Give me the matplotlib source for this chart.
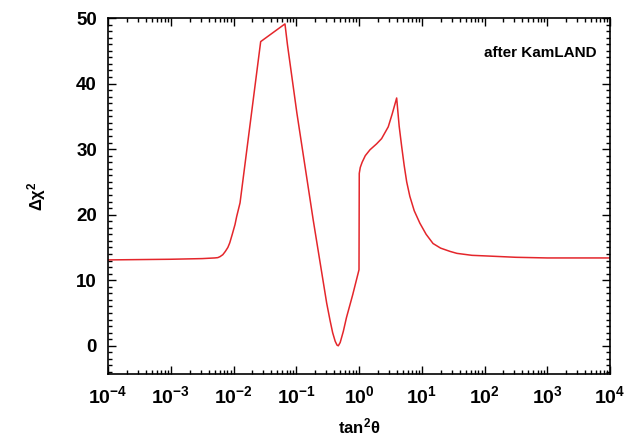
import matplotlib
matplotlib.use('Agg')
import matplotlib.pyplot as plt
import numpy as np
from matplotlib.ticker import LogLocator, MultipleLocator, NullFormatter

# tan^2(theta) values given as log10, with Delta chi^2
log_tan2 = [-4.0, -3.0, -2.5, -2.3, -2.25, -2.215, -2.17, -2.13, -2.09, -2.06,
            -2.02, -1.976, -1.95, -1.896,
            -1.567, -1.18, -1.14, -0.99, -0.73, -0.515, -0.46, -0.42, -0.38,
            -0.35, -0.33, -0.30, -0.25, -0.2, -0.1, 0.0, 0.004, 0.02, 0.05,
            0.1, 0.175, 0.28, 0.36, 0.466, 0.53,
            0.60, 0.64, 0.68, 0.72, 0.76, 0.81, 0.88, 0.97, 1.07, 1.18, 1.3,
            1.45, 1.56, 1.8, 2.04, 2.5, 3.0, 4.0]
dchi2 = [13.1, 13.2, 13.3, 13.4, 13.45, 13.6, 13.9, 14.4, 15.0, 15.7,
         17.0, 18.5, 19.7, 21.8,
         46.4, 49.1, 45.9, 35.5, 19.2, 6.5, 3.8, 2.0, 0.7,
         0.1, 0.0, 0.5, 2.2, 4.3, 7.8, 11.6, 26.3, 27.2, 28.0,
         29.0, 29.9, 30.8, 31.6, 33.4, 35.4,
         37.8, 33.5, 30.4, 27.5, 25.0, 22.8, 20.6, 18.7, 17.0, 15.6, 14.9,
         14.4, 14.1, 13.8, 13.7, 13.5, 13.4, 13.4]

x_ticks = [1e-4, 1e-3, 1e-2, 1e-1, 1e0, 1e1, 1e2, 1e3, 1e4]
x_ticklabels = [r'$10^{-4}$', r'$10^{-3}$', r'$10^{-2}$', r'$10^{-1}$', r'$10^{0}$',
                r'$10^{1}$', r'$10^{2}$', r'$10^{3}$', r'$10^{4}$']
y_ticks = [0, 10, 20, 30, 40, 50]

plt.rcParams.update({
    'font.family': ['Liberation Sans', 'DejaVu Sans'],
    'font.weight': 'bold',
    'mathtext.fontset': 'custom',
    'mathtext.rm': 'Liberation Sans:bold',
    'mathtext.it': 'Liberation Sans:bold',
    'mathtext.bf': 'Liberation Sans:bold',
    'mathtext.default': 'rm',
})

fig = plt.figure(figsize=(6.32, 4.37), dpi=100)
ax = fig.add_axes([0.1709, 0.1442, 0.7943, 0.8146])

x = 10.0 ** np.array(log_tan2)
ax.plot(x, dchi2, color='#e4262b', lw=1.1)

ax.set_xscale('log')
ax.set_xlim(1e-4, 1e4)
ax.set_ylim(-4.3, 50)
ax.set_xticks(x_ticks)
ax.set_xticklabels(x_ticklabels)
ax.xaxis.set_minor_locator(LogLocator(base=10, subs=np.arange(2, 10), numticks=100))
ax.xaxis.set_minor_formatter(NullFormatter())
ax.set_yticks(y_ticks)
ax.yaxis.set_minor_locator(MultipleLocator(1))

ax.tick_params(which='both', direction='in', top=True, right=True, width=1.0)
ax.tick_params(which='major', length=6, pad=8)
ax.tick_params(axis='x', which='major', labelsize=14)
ax.tick_params(axis='y', which='major', labelsize=13.5)
ax.tick_params(which='minor', length=3)
for s in ax.spines.values():
    s.set_linewidth(1.2)

ax.set_xlabel(r'$\mathrm{tan}^2\theta$', fontsize=12, labelpad=7)
ax.set_ylabel(r'$\Delta\chi^2$', fontsize=12, labelpad=20)
ax.text(0.974, 0.902, 'after KamLAND', transform=ax.transAxes,
        ha='right', va='center', fontsize=11, fontweight='bold')

fig.savefig('out.png', dpi=100)
